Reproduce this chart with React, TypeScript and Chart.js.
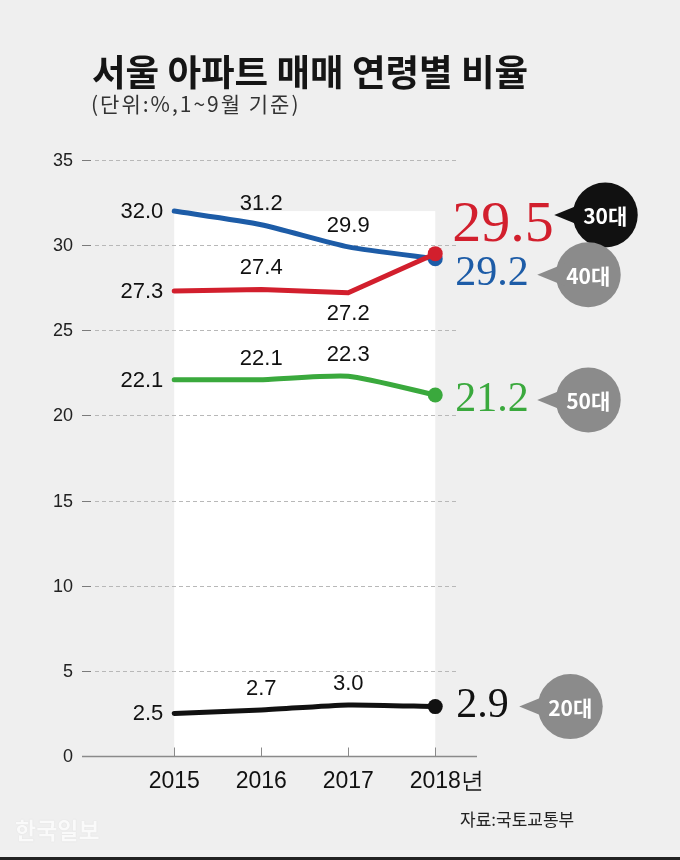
import React, { useEffect, useRef } from 'react';
import { Chart, registerables } from 'chart.js';
Chart.register(...registerables);

const years = [2015, 2016, 2017, 2018];
const xTickLabels = ['2015', '2016', '2017', '2018년'];
const yTickValues = [0, 5, 10, 15, 20, 25, 30, 35];
const seriesNames = ['30대', '40대', '50대', '20대'];
const age30 = [27.3, 27.4, 27.2, 29.5];
const age40 = [32.0, 31.2, 29.9, 29.2];
const age50 = [22.1, 22.1, 22.3, 21.2];
const age20 = [2.5, 2.7, 3.0, 2.9];
const seriesValues = [age30, age40, age50, age20];

const SANS = '"Liberation Sans", Arial, sans-serif';
const SERIF = '"Liberation Serif", "DejaVu Serif", serif';
const KR = '"Noto Sans CJK KR", "Noto Sans", sans-serif';

const seriesStyle = [
  { color: '#d21f2d', tension: 0, labelPos: ['left', 'above', 'below'], endFont: 58, endDx: 17, endBase: -12.6, bubbleColor: '#111111', bubbleDx: 170, bubbleDy: -38.6 },
  { color: '#1d5ca7', tension: 0.2, labelPos: ['left', 'above', 'above'], endFont: 42, endDx: 20, endBase: 26.3, bubbleColor: '#8b8b8b', bubbleDx: 153, bubbleDy: 16 },
  { color: '#3aa93d', tension: 0.2, labelPos: ['left', 'above', 'above'], endFont: 42, endDx: 20, endBase: 16, bubbleColor: '#8b8b8b', bubbleDx: 153, bubbleDy: 5 },
  { color: '#111111', tension: 0.2, labelPos: ['left', 'above', 'above'], endFont: 42, endDx: 21, endBase: 10.4, bubbleColor: '#8b8b8b', bubbleDx: 135, bubbleDy: 0 },
];

const decorPlugin = {
  id: 'decor',
  beforeDatasetsDraw(chart: any) {
    const { ctx, scales, chartArea } = chart;
    const x = scales.x, y = scales.y;
    ctx.save();
    const all = seriesValues.flat();
    const top = y.getPixelForValue(Math.max(...all));
    const l = x.getPixelForValue(years[0]);
    const r = x.getPixelForValue(years[years.length - 1]);
    const y0 = y.getPixelForValue(0);
    ctx.fillStyle = '#ffffff';
    ctx.fillRect(l, top, r - l, y0 - top);

    // grid + y labels
    ctx.font = `18px ${SANS}`;
    ctx.textAlign = 'right';
    ctx.textBaseline = 'middle';
    yTickValues.forEach((v) => {
      const py = Math.round(y.getPixelForValue(v)) + 0.5;
      ctx.fillStyle = '#222';
      ctx.fillText(String(v), chartArea.left - 9, py + 1);
      if (v === 0) return;
      ctx.lineWidth = 1;
      ctx.setLineDash([]);
      ctx.strokeStyle = '#7a7a7a';
      ctx.beginPath();
      ctx.moveTo(chartArea.left, py);
      ctx.lineTo(chartArea.left + 9, py);
      ctx.stroke();
      ctx.setLineDash([4, 3]);
      ctx.strokeStyle = '#b8b8b8';
      ctx.beginPath();
      ctx.moveTo(chartArea.left + 13, py);
      ctx.lineTo(r + 23, py);
      ctx.stroke();
    });
    ctx.setLineDash([]);

    // x axis
    const ay = Math.round(y0) + 0.5;
    ctx.strokeStyle = '#8a8a8a';
    ctx.lineWidth = 1.5;
    ctx.beginPath();
    ctx.moveTo(chartArea.left, ay);
    ctx.lineTo(chartArea.right, ay);
    ctx.stroke();
    ctx.lineWidth = 1;
    years.forEach((yr) => {
      const px = Math.round(x.getPixelForValue(yr)) + 0.5;
      ctx.beginPath();
      ctx.moveTo(px, ay - 9);
      ctx.lineTo(px, ay);
      ctx.stroke();
    });

    // x labels
    ctx.font = `23px ${SANS}`;
    ctx.fillStyle = '#111';
    ctx.textAlign = 'left';
    ctx.textBaseline = 'middle';
    years.forEach((yr, i) => {
      const px = x.getPixelForValue(yr);
      const w = ctx.measureText(String(yr)).width;
      ctx.fillText(xTickLabels[i], px - w / 2, y0 + 26);
    });
    ctx.restore();
  },
  afterDatasetsDraw(chart: any) {
    const { ctx, scales } = chart;
    const x = scales.x, y = scales.y;
    ctx.save();
    seriesValues.forEach((vals, si) => {
      const st = seriesStyle[si];
      ctx.font = `22px ${SANS}`;
      ctx.fillStyle = '#111';
      ctx.textBaseline = 'middle';
      for (let i = 0; i < vals.length - 1; i++) {
        const px = x.getPixelForValue(years[i]);
        const py = y.getPixelForValue(vals[i]);
        const txt = vals[i].toFixed(1);
        const pos = st.labelPos[i];
        if (pos === 'left') {
          ctx.textAlign = 'right';
          ctx.fillText(txt, px - 11, py + 1);
        } else if (pos === 'above') {
          ctx.textAlign = 'center';
          ctx.fillText(txt, px, py - 21);
        } else {
          ctx.textAlign = 'center';
          ctx.fillText(txt, px, py + 21);
        }
      }
      const li = vals.length - 1;
      const ex = x.getPixelForValue(years[li]);
      const ey = y.getPixelForValue(vals[li]);
      ctx.font = `${st.endFont}px ${SERIF}`;
      ctx.fillStyle = st.color;
      ctx.textAlign = 'left';
      ctx.textBaseline = 'alphabetic';
      ctx.fillText(vals[li].toFixed(1), ex + st.endDx, ey + st.endBase);
      const cx = ex + st.bubbleDx;
      const cy = ey + st.bubbleDy;
      ctx.fillStyle = st.bubbleColor;
      ctx.beginPath();
      ctx.arc(cx, cy, 32.5, 0, Math.PI * 2);
      ctx.fill();
      ctx.beginPath();
      ctx.moveTo(cx - 51, cy);
      ctx.lineTo(cx - 24, cy - 11);
      ctx.lineTo(cx - 24, cy + 11);
      ctx.closePath();
      ctx.fill();
      ctx.fillStyle = '#ffffff';
      ctx.font = `bold 21px ${KR}`;
      ctx.textAlign = 'center';
      ctx.textBaseline = 'middle';
      ctx.fillText(seriesNames[si], cx, cy + 1);
    });
    ctx.restore();
  },
};

export default function App() {
  const ref = useRef<HTMLCanvasElement | null>(null);
  useEffect(() => {
    if (!ref.current) return;
    const chart = new Chart(ref.current, {
      type: 'line',
      data: {
        datasets: seriesValues.map((vals, si) => ({
          label: seriesNames[si],
          data: vals.map((v, i) => ({ x: years[i], y: v })),
          borderColor: seriesStyle[si].color,
          backgroundColor: seriesStyle[si].color,
          borderWidth: 5,
          tension: seriesStyle[si].tension,
          pointRadius: vals.map((_, i) => (i === vals.length - 1 ? 7.5 : 0)),
          pointBorderWidth: 0,
          pointBackgroundColor: seriesStyle[si].color,
          borderCapStyle: 'round',
          borderJoinStyle: 'round',
          fill: false,
        })),
      },
      options: {
        animation: false,
        responsive: false,
        devicePixelRatio: 1,
        layout: { padding: { left: 82, right: 203, top: 160, bottom: 104 } },
        plugins: { legend: { display: false }, tooltip: { enabled: false } },
        events: [],
        scales: {
          x: { type: 'linear', min: 2013.94, max: 2018.48, display: false },
          y: { type: 'linear', min: 0, max: 35, display: false },
        },
      } as any,
      plugins: [decorPlugin],
    });
    return () => chart.destroy();
  }, []);

  return (
    <div style={{ position: 'fixed', left: 0, top: 0, width: 680, height: 860, background: '#efefef', overflow: 'hidden' }}>
      <canvas ref={ref} width={680} height={860} style={{ position: 'absolute', left: 0, top: 0, width: 680, height: 860 }} />
      <div style={{ position: 'absolute', left: 92, top: 51, fontFamily: KR, fontWeight: 700, fontSize: 36.5, lineHeight: '40px', color: '#151515', whiteSpace: 'nowrap' }}>
        서울 아파트 매매 연령별 비율
      </div>
      <div style={{ position: 'absolute', left: 91, top: 91, fontFamily: KR, fontSize: 21, lineHeight: '24px', color: '#333', whiteSpace: 'nowrap', letterSpacing: 2 }}>
        (단위:%,1~9월 기준)
      </div>
      <div style={{ position: 'absolute', left: 460, top: 808, fontFamily: KR, fontSize: 17, lineHeight: '22px', color: '#222', whiteSpace: 'nowrap' }}>
        자료:국토교통부
      </div>
      <div style={{ position: 'absolute', left: 15, top: 816, fontFamily: KR, fontWeight: 700, fontSize: 23, lineHeight: '26px', color: '#fafafa', whiteSpace: 'nowrap', textShadow: '0 0 1px #d0d0d0' }}>
        한국일보
      </div>
      <div style={{ position: 'absolute', left: 0, top: 857, width: 680, height: 3, background: '#222' }} />
    </div>
  );
}
